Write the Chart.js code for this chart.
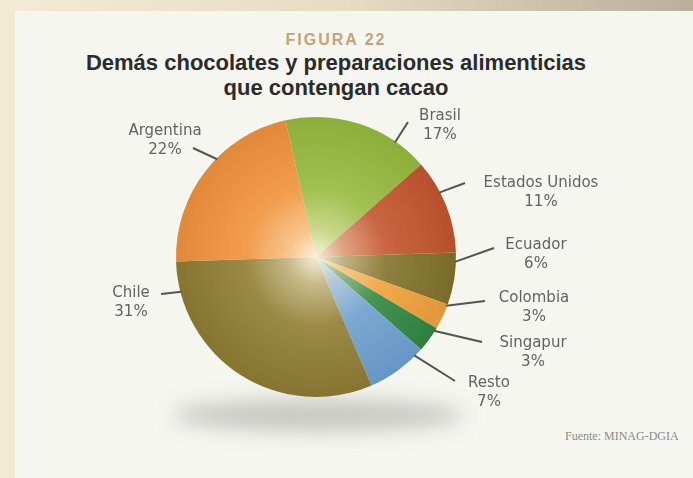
<!DOCTYPE html>
<html>
<head>
<meta charset="utf-8">
<script src="https://cdn.jsdelivr.net/npm/chart.js@4.4.1/dist/chart.umd.min.js"></script>
<style>
  html, body { margin: 0; padding: 0; }
  body {
    width: 693px; height: 478px; overflow: hidden; position: relative;
    background: #f3ead2;
  }
  .topstrip {
    position: absolute; left: 0; top: 0; width: 693px; height: 11px;
    background: linear-gradient(to right, #f3ebd5 0%, #e6dcc2 50%, #b9af9b 100%);
  }
  .card {
    position: absolute; left: 15px; top: 11px; right: 0; bottom: 0;
    background: #f6f6f1;
  }
  .fig {
    position: absolute; left: 0; width: 672px; top: 31px; text-align: center;
    font: bold 16px "Liberation Sans", Arial, sans-serif; letter-spacing: 2px;
    color: #c4a374;
  }
  .title {
    position: absolute; left: 0; width: 672px; top: 50px; text-align: center;
    font: bold 22px "Liberation Sans", Arial, sans-serif; line-height: 25px;
    color: #2b2b2b;
  }
  .source {
    position: absolute; left: 565px; top: 429px;
    font: 12px "Liberation Serif", "Times New Roman", serif; color: #8a8a86;
  }
  #chart { position: absolute; left: 0; top: 0; }
</style>
</head>
<body>
<div class="topstrip"></div>
<div class="card"></div>
<div class="fig">FIGURA 22</div>
<div class="title">Demás chocolates y preparaciones alimenticias<br>que contengan cacao</div>
<div class="source">Fuente: MINAG-DGIA</div>
<canvas id="chart" width="693" height="478"></canvas>
<script>
var categories = ['Brasil', 'Estados Unidos', 'Ecuador', 'Colombia', 'Singapur', 'Resto', 'Chile', 'Argentina'];
var shares = [17, 11, 6, 3, 3, 7, 31, 22];
var sliceColors = ['#93b93c', '#c2512d', '#7f7029', '#f0a03a', '#2d8640', '#6a9fd2', '#8c7b32', '#f0913a'];

// where each leader line leaves the pie (deg from top) and where the label sits, relative to the pie centre
var labelLayout = [
  { ang: 34.6, end: [92, -135], text: [124, -141] },
  { ang: 62.4, end: [149, -74], text: [225, -74] },
  { ang: 92, end: [178, -9], text: [220, -12] },
  { ang: 110.5, end: [169, 44], text: [218, 41] },
  { ang: 122, end: [166, 85], text: [217, 86] },
  { ang: 135, end: [139, 124], text: [173, 126] },
  { ang: 255.5, end: [-155, 37], text: [-185, 36] },
  { ang: 314.7, end: [-123, -109], text: [-151, -126] }
];

function hexToRgb(h) {
  var n = parseInt(h.slice(1), 16);
  return [(n >> 16) & 255, (n >> 8) & 255, n & 255];
}
function mix(h, target, t) {
  var a = hexToRgb(h), b = hexToRgb(target);
  var r = a.map(function (v, i) { return Math.round(v + (b[i] - v) * t); });
  return 'rgb(' + r.join(',') + ')';
}

// radial light on each slice, pale at the centre
function sliceFill(context) {
  var base = sliceColors[context.dataIndex];
  var area = context.chart.chartArea;
  if (!area) return base;
  var cx = (area.left + area.right) / 2;
  var cy = (area.top + area.bottom) / 2;
  var r = Math.min(area.right - area.left, area.bottom - area.top) / 2;
  var g = context.chart.ctx.createRadialGradient(cx, cy, 0, cx, cy, r);
  g.addColorStop(0, mix(base, '#fffbea', 0.9));
  g.addColorStop(0.2, mix(base, '#fff6dc', 0.5));
  g.addColorStop(0.5, mix(base, '#fff6dc', 0.12));
  g.addColorStop(1, mix(base, '#3a3220', 0.08));
  return g;
}

var pieShadow = {
  id: 'pieShadow',
  beforeDatasetsDraw: function (chart) {
    var arc = chart.getDatasetMeta(0).data[0];
    if (!arc) return;
    var ctx = chart.ctx;
    ctx.save();
    ctx.filter = 'blur(10px)';
    ctx.fillStyle = 'rgba(120,120,115,0.36)';
    ctx.beginPath();
    ctx.ellipse(arc.x + 2, arc.y + arc.outerRadius * 1.13, arc.outerRadius * 1.04, 16, 0, 0, Math.PI * 2);
    ctx.fill();
    ctx.restore();
  }
};

var outsideLabels = {
  id: 'outsideLabels',
  afterDatasetsDraw: function (chart) {
    var meta = chart.getDatasetMeta(0);
    var ctx = chart.ctx;
    ctx.save();
    ctx.strokeStyle = '#55544f';
    ctx.lineWidth = 2;
    ctx.fillStyle = '#626260';
    ctx.font = '15px "DejaVu Sans", sans-serif';
    ctx.textAlign = 'center';
    ctx.textBaseline = 'middle';
    meta.data.forEach(function (arc, i) {
      var lay = labelLayout[i];
      var a = lay.ang * Math.PI / 180;
      var r = arc.outerRadius - 1;
      ctx.beginPath();
      ctx.moveTo(arc.x + r * Math.sin(a), arc.y - r * Math.cos(a));
      ctx.lineTo(arc.x + lay.end[0], arc.y + lay.end[1]);
      ctx.stroke();
      var tx = arc.x + lay.text[0], ty = arc.y + lay.text[1];
      ctx.fillText(categories[i], tx, ty);
      ctx.fillText(chart.data.datasets[0].data[i] + '%', tx, ty + 19.5);
    });
    ctx.restore();
  }
};

var chart = new Chart(document.getElementById('chart').getContext('2d'), {
  type: 'pie',
  data: {
    labels: categories,
    datasets: [{
      data: shares,
      backgroundColor: sliceFill,
      borderWidth: 0
    }]
  },
  options: {
    responsive: false,
    animation: false,
    rotation: -12.6,
    layout: { padding: { top: 117, bottom: 81, left: 0, right: 61 } },
    plugins: {
      legend: { display: false },
      tooltip: { enabled: false }
    }
  },
  plugins: [pieShadow, outsideLabels]
});
</script>
</body>
</html>
